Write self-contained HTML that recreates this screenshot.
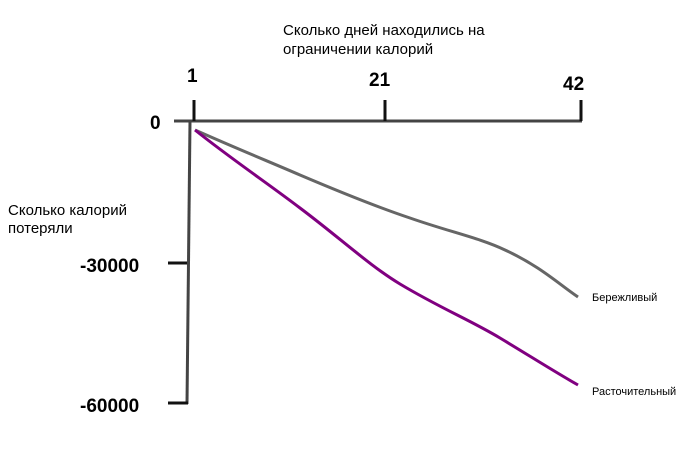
<!DOCTYPE html>
<html><head><meta charset="utf-8"><style>
body{margin:0;background:#fff;width:700px;height:465px;overflow:hidden}
text{font-family:"Liberation Sans",sans-serif}
</style></head><body>
<svg width="700" height="465" viewBox="0 0 700 465">
<text x="283" y="35" font-size="15">Сколько дней находились на</text>
<text x="283" y="54" font-size="15">ограничении калорий</text>
<text x="187" y="82" font-size="19" font-weight="bold">1</text>
<text x="369" y="86" font-size="19" font-weight="bold">21</text>
<text x="563" y="90" font-size="19" font-weight="bold">42</text>
<text x="150" y="129" font-size="19" font-weight="bold">0</text>
<text x="8" y="215" font-size="15">Сколько калорий</text>
<text x="8" y="233" font-size="15">потеряли</text>
<text x="80" y="272" font-size="19" font-weight="bold">-30000</text>
<text x="80" y="412" font-size="19" font-weight="bold">-60000</text>
<g stroke="#111" stroke-width="3" fill="none">
<line x1="174" y1="121" x2="582" y2="121" stroke="#444"/>
<line x1="194" y1="100" x2="194" y2="121"/>
<line x1="385" y1="100" x2="385" y2="121"/>
<line x1="581" y1="100" x2="581" y2="121"/>
<line x1="190" y1="121" x2="187" y2="404" stroke="#444"/>
<line x1="168" y1="263" x2="187" y2="263"/>
<line x1="168" y1="403" x2="188" y2="403"/>
</g>
<path d="M195,130 C240,150 270,162 300,175 C340,192 380,208 410,218 C450,232 480,238 505,250 C540,266 560,285 578,297" stroke="#666" stroke-width="3" fill="none"/>
<path d="M195,130 C230,158 270,185 300,208 C340,238 370,266 400,284 C440,308 470,320 500,338 C530,356 555,372 578,385" stroke="#800080" stroke-width="3" fill="none"/>
<text x="592" y="301" font-size="11">Бережливый</text>
<text x="592" y="395" font-size="11">Расточительный</text>
</svg>
</body></html>
